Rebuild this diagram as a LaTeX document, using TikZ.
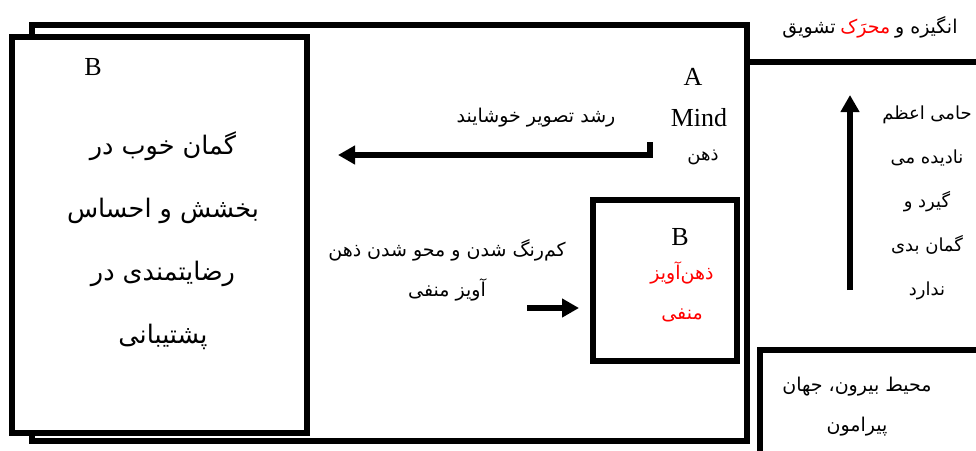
\documentclass[tikz,border=0pt]{standalone}
\usepackage{fontspec}
\setmainfont{Liberation Serif}
\newfontfamily\arabicfont[Script=Arabic]{DejaVu Sans}
\TeXXeTstate=1
\usetikzlibrary{arrows.meta}
\newcommand{\fa}[1]{{\arabicfont\beginR #1\endR}}

\begin{document}
\begin{tikzpicture}[x=1pt,y=-1pt,
  box/.style={line width=5.5pt},
  arr/.style={line width=5.5pt,-{Triangle[length=17pt,width=18pt]}},
  lat/.style={font=\fontsize{26}{30}\selectfont},
  txt/.style={align=center,font=\fontsize{19}{40}\selectfont}]
\useasboundingbox (0,0) rectangle (976,450);
% frames
\draw[box] (32,25) rectangle (747,441);
\draw[box,fill=white] (12,37) rectangle (307,433);
\draw[box] (593,200) rectangle (737,361);
\draw[box] (747,62) -- (980,62);
\draw[box] (980,350) -- (760,350) -- (760,456);
% arrows
\coordinate (growS) at (650,142);
\coordinate (growE) at (338,155);
\draw[arr] (growS) |- (growE);
\coordinate (fadeS) at (527,308);
\coordinate (fadeE) at (579,308);
\draw[arr] (fadeS) -- (fadeE);
\coordinate (upS) at (850,290);
\coordinate (upE) at (850,95);
\draw[arr] (upS) -- (upE);
% left box
\node[lat] (leftB) at (93,67) {B};
\node[txt,font=\fontsize{25.5}{63}\selectfont] (leftTxt) at (163,241)
  {\fa{گمان خوب در}\\\fa{بخشش و احساس}\\\fa{رضایتمندی در}\\\fa{پشتیبانی}};
% mind
\node[lat] (mindA) at (693,77) {A};
\node[lat] (mind) at (699,118) {Mind};
\node[txt,font=\fontsize{18}{40}\selectfont] (mindFa) at (703,157) {\fa{ذهن}};
\node[txt] (grow) at (536,118) {\fa{رشد تصویر خوشایند}};
% inner box
\node[lat] (innerB) at (680,237) {B};
\node[txt,red] (innerTxt) at (682,292) {\fa{ذهن‌آویز}\\\fa{منفی}};
\node[txt] (fade) at (447,270) {\fa{کم‌رنگ شدن و محو شدن ذهن}\\\fa{آویز منفی}};
% right column
\node[txt] (motive) at (870,27)
  {\fa{تشویق} \textcolor{red}{\fa{محرَک}} \fa{انگیزه و}};
\node[txt,font=\fontsize{18}{44}\selectfont] (protector) at (927,203)
  {\fa{حامی اعظم}\\\fa{نادیده می}\\\fa{گیرد و}\\\fa{گمان بدی}\\\fa{ندارد}};
\node[txt] (outside) at (857,407) {\fa{محیط بیرون، جهان}\\\fa{پیرامون}};
\end{tikzpicture}
\end{document}
